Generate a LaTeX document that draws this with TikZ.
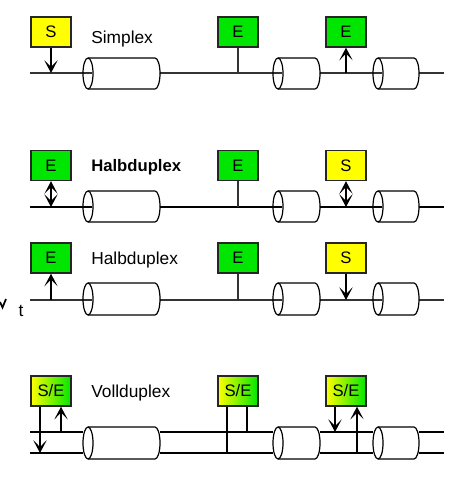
\documentclass[tikz,border=0pt]{standalone}
\usepackage{fontspec}
\setmainfont{Liberation Sans}
\usetikzlibrary{arrows.meta,calc}
\definecolor{bgreen}{RGB}{0,230,0}
\definecolor{byellow}{RGB}{255,255,0}
\newcommand\mycyl[4]{%
  % #1 x left, #2 x right, #3 y top, #4 y bottom  (y axis points down)
  \fill[white] (#1+5,#3) arc[start angle=-90,end angle=90,x radius=5,y radius={(#4-#3)/2}]
     -- (#2-5,#4) arc[start angle=90,end angle=-90,x radius=5,y radius={(#4-#3)/2}] -- cycle;
  \draw[line width=0.9pt] (#1+5,{(#3+#4)/2}) ellipse[x radius=5,y radius={(#4-#3)/2}];
  \draw[line width=0.9pt] (#1+5,#3) -- (#2-5,#3) arc[start angle=-90,end angle=90,x radius=5,y radius={(#4-#3)/2}] -- (#1+5,#4);
}
% cable line broken by the three cylinders: #1 style, #2 y, #3 extra length into left face
\newcommand\mycable[3]{%
  \draw[#1] (30,#2) -- (83+#3,#2);
  \draw[#1] (160,#2) -- (273+#3,#2);
  \draw[#1] (320,#2) -- (373+#3,#2);
  \draw[#1] (419,#2) -- (444,#2);
}
\begin{document}
\begin{tikzpicture}[x=0.75pt,y=-0.75pt,
  box/.style={draw=black!85,line width=1.1pt,minimum width=30pt,minimum height=22.5pt,inner sep=0pt,
    font=\fontsize{12.5}{14}\selectfont},
  sbox/.style={box,fill=byellow},
  ebox/.style={box,fill=bgreen},
  sebox/.style={box,left color=byellow,right color=bgreen},
  lbl/.style={anchor=west,inner sep=0pt,font=\fontsize{13}{15}\selectfont},
  tip/.tip={Stealth[length=9.5pt,width=10pt,inset=5pt]},
  arr/.style={line width=0.9pt,-tip},
  darr/.style={line width=0.9pt,tip-tip},
  thin/.style={line width=0.8pt,draw=black!80},
  thick/.style={line width=2.2pt,draw=black}]
\useasboundingbox (0,0) rectangle (468,477);

% ---------- Row 1: Simplex ----------
\coordinate (l1a) at (30,73); \coordinate (l1b) at (444,73);
\mycable{thin}{73}{9}
\mycyl{83}{160}{58}{89}
\mycyl{273}{320}{58}{89}
\mycyl{373}{419}{58}{89}
\node[sbox] (b11) at (51,32) {S};
\node[ebox] (b12) at (238,32) {E};
\node[ebox] (b13) at (346,32) {E};
\node[lbl] (t1) at (91,39) {Simplex};
\draw[arr] (b11.south) -- (b11.south |- l1a);
\draw[thin] (b12.south) -- (b12.south |- l1a);
\draw[arr] (b13.south |- l1a) -- (b13.south);

% ---------- Row 2: Halbduplex (bold) ----------
\coordinate (l2a) at (30,207); \coordinate (l2b) at (444,207);
\mycable{thick}{207}{9}
\mycyl{83}{160}{191}{222}
\mycyl{273}{320}{191}{222}
\mycyl{373}{419}{191}{222}
\node[ebox] (b21) at (51,165.5) {E};
\node[ebox] (b22) at (238,165.5) {E};
\node[sbox] (b23) at (346,165.5) {S};
\node[lbl,font=\fontsize{12.5}{15}\bfseries] (t2) at (91,167) {Halbduplex};
\draw[darr] (b21.south) -- (b21.south |- l2a);
\draw[thin] (b22.south) -- (b22.south |- l2a);
\draw[darr] (b23.south) -- (b23.south |- l2a);

% ---------- Row 3: Halbduplex ----------
\coordinate (l3a) at (30,300); \coordinate (l3b) at (444,300);
\mycable{thin}{300}{9}
\mycyl{83}{160}{283}{315}
\mycyl{273}{320}{283}{315}
\mycyl{373}{419}{283}{315}
\node[ebox] (b31) at (51,258) {E};
\node[ebox] (b32) at (238,258) {E};
\node[sbox] (b33) at (346,258) {S};
\node[lbl] (t3) at (91,260) {Halbduplex};
\draw[arr] (b31.south |- l3a) -- (b31.south);
\draw[thin] (b32.south) -- (b32.south |- l3a);
\draw[arr] (b33.south) -- (b33.south |- l3a);
\node[inner sep=0pt,font=\fontsize{13}{15}\selectfont] (tt) at (21,311) {t};
\draw[line width=1.3pt] (0,302) -- (2.5,307.5) -- (6,299);

% ---------- Row 4: Vollduplex ----------
\coordinate (l4a) at (30,432); \coordinate (l4b) at (444,432);
\coordinate (l4c) at (30,453); \coordinate (l4d) at (444,453);
\mycable{line width=0.8pt}{432}{0}
\mycable{line width=0.8pt}{453}{0}
\mycyl{83}{160}{427}{459}
\mycyl{273}{320}{427}{459}
\mycyl{373}{419}{427}{459}
\node[sebox] (b41) at (51,391) {S/E};
\node[sebox] (b42) at (238,391) {S/E};
\node[sebox] (b43) at (346,391) {S/E};
\node[lbl] (t4) at (91,393) {Vollduplex};
\coordinate (p41) at ($(b41.south)+(-11,0)$);
\coordinate (p42) at ($(b41.south)+(10,0)$);
\coordinate (p43) at ($(b42.south)+(-11,0)$);
\coordinate (p44) at ($(b42.south)+(9,0)$);
\coordinate (p45) at ($(b43.south)+(-11,0)$);
\coordinate (p46) at ($(b43.south)+(11,0)$);
\draw[arr] (p41) -- (p41 |- l4c);
\draw[arr] (p42 |- l4a) -- (p42);
\draw[line width=0.8pt] (p43) -- (p43 |- l4c);
\draw[line width=0.8pt] (p44) -- (p44 |- l4a);
\draw[arr] (p45) -- (p45 |- l4a);
\draw[arr] (p46 |- l4c) -- (p46);
\end{tikzpicture}
\end{document}
